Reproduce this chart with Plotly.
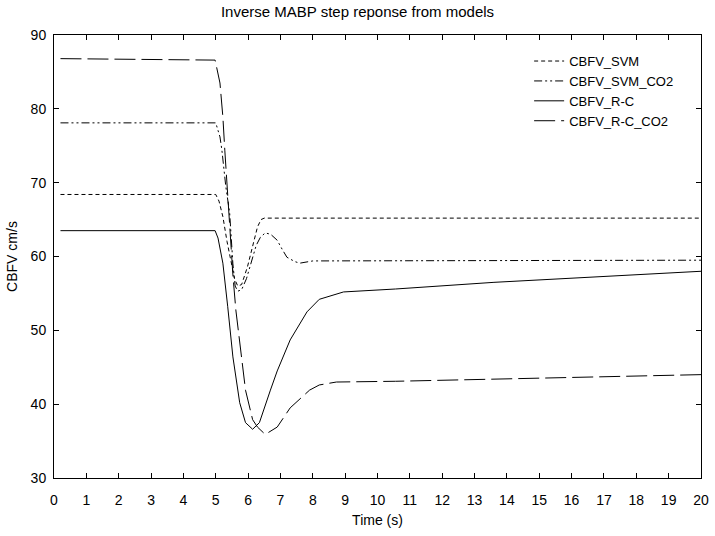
import plotly.graph_objects as go

# ---- data ----
t_svm = [0.2, 5.0, 5.1, 5.22, 5.35, 5.47, 5.58, 5.68, 5.8, 5.98, 6.15, 6.29, 6.4, 6.5, 20]
v_svm = [68.4, 68.4, 67.5, 65.4, 62.0, 59.1, 57.0, 56.0, 56.2, 58.6, 61.5, 64.0, 65.0, 65.2, 65.2]

t_svm_co2 = [0.2, 5.0, 5.13, 5.19, 5.31, 5.43, 5.53, 5.6, 5.68, 5.8, 5.95, 6.08, 6.25, 6.38, 6.53,
             6.7, 6.9, 7.05, 7.2, 7.45, 7.6, 8.0, 20]
v_svm_co2 = [78.1, 78.1, 76.2, 74.4, 69.5, 65.9, 59.0, 56.0, 55.3, 55.5, 57.0, 59.1, 61.5, 62.6, 63.2,
             63.0, 62.2, 61.0, 59.9, 59.3, 59.1, 59.4, 59.5]

t_rc = [0.2, 4.98, 5.07, 5.22, 5.37, 5.53, 5.74, 5.92, 6.14, 6.35, 6.69, 6.9, 7.3, 7.82, 8.2,
        8.95, 10.56, 13.6, 20]
v_rc = [63.5, 63.5, 62.5, 59.1, 53.2, 46.4, 40.2, 37.5, 36.6, 37.5, 41.9, 44.5, 48.7, 52.5, 54.2,
        55.2, 55.6, 56.5, 58.0]

t_rc_co2 = [0.2, 4.98, 5.13, 5.22, 5.28, 5.34, 5.4, 5.47, 5.53, 5.62, 5.74, 5.92, 6.14, 6.29, 6.53,
            6.9, 7.3, 7.9, 8.2, 8.73, 10.56, 13.6, 20]
v_rc_co2 = [86.8, 86.6, 83.5, 78.9, 74.4, 70.0, 66.5, 61.3, 57.5, 52.8, 48.7, 41.9, 37.9, 36.9, 35.9,
            36.9, 39.5, 41.9, 42.6, 43.0, 43.1, 43.4, 44.0]

names = ["CBFV_SVM", "CBFV_SVM_CO2", "CBFV_R-C", "CBFV_R-C_CO2"]
x_ticks = list(range(0, 21))
y_ticks = [30, 40, 50, 60, 70, 80, 90]

FONT = "Liberation Sans, Arial, sans-serif"

fig = go.Figure()
series = [
    (t_svm, v_svm, names[0], "4px,3px"),
    (t_svm_co2, v_svm_co2, names[1], "8px,3px,2px,3px,2px,3px"),
    (t_rc, v_rc, names[2], "solid"),
    (t_rc_co2, v_rc_co2, names[3], "21px,6px"),
]
for t, v, n, d in series:
    fig.add_trace(go.Scatter(x=t, y=v, name=n, mode="lines",
                             line=dict(color="black", width=1, dash=d)))

axis_common = dict(showline=True, linecolor="black", linewidth=1, mirror="ticks",
                   ticks="inside", ticklen=5, tickcolor="black", showgrid=False,
                   zeroline=False, ticklabeloverflow="allow",
                   tickfont=dict(family=FONT, size=14, color="black"))

fig.update_layout(
    width=715, height=536,
    margin=dict(l=54, r=6, t=35, b=58),
    paper_bgcolor="white", plot_bgcolor="white",
    title=dict(text="Inverse MABP step reponse from models", x=0.5, xanchor="center",
               y=1 - 12 / 536, yanchor="middle", font=dict(family=FONT, size=15, color="black")),
    xaxis=dict(range=[0, 20], tickvals=x_ticks, ticktext=[str(v) for v in x_ticks],
               ticklabelstandoff=9,
               title=dict(text="Time (s)", font=dict(family=FONT, size=14, color="black"), standoff=8),
               **axis_common),
    yaxis=dict(range=[30, 90], tickvals=y_ticks, ticktext=[str(v) for v in y_ticks],
               ticklabelstandoff=4,
               title=dict(text="CBFV cm/s", font=dict(family=FONT, size=14, color="black"), standoff=9),
               **axis_common),
    legend=dict(x=(535 - 54) / 655, y=0.975, xanchor="left", yanchor="top", bgcolor="rgba(0,0,0,0)",
                borderwidth=0, font=dict(family=FONT, size=13, color="black"),
                tracegroupgap=0, itemwidth=30),
    showlegend=True,
)

fig.write_html("out.html", config={"displayModeBar": False},
               post_script="document.body.style.margin='0';")
